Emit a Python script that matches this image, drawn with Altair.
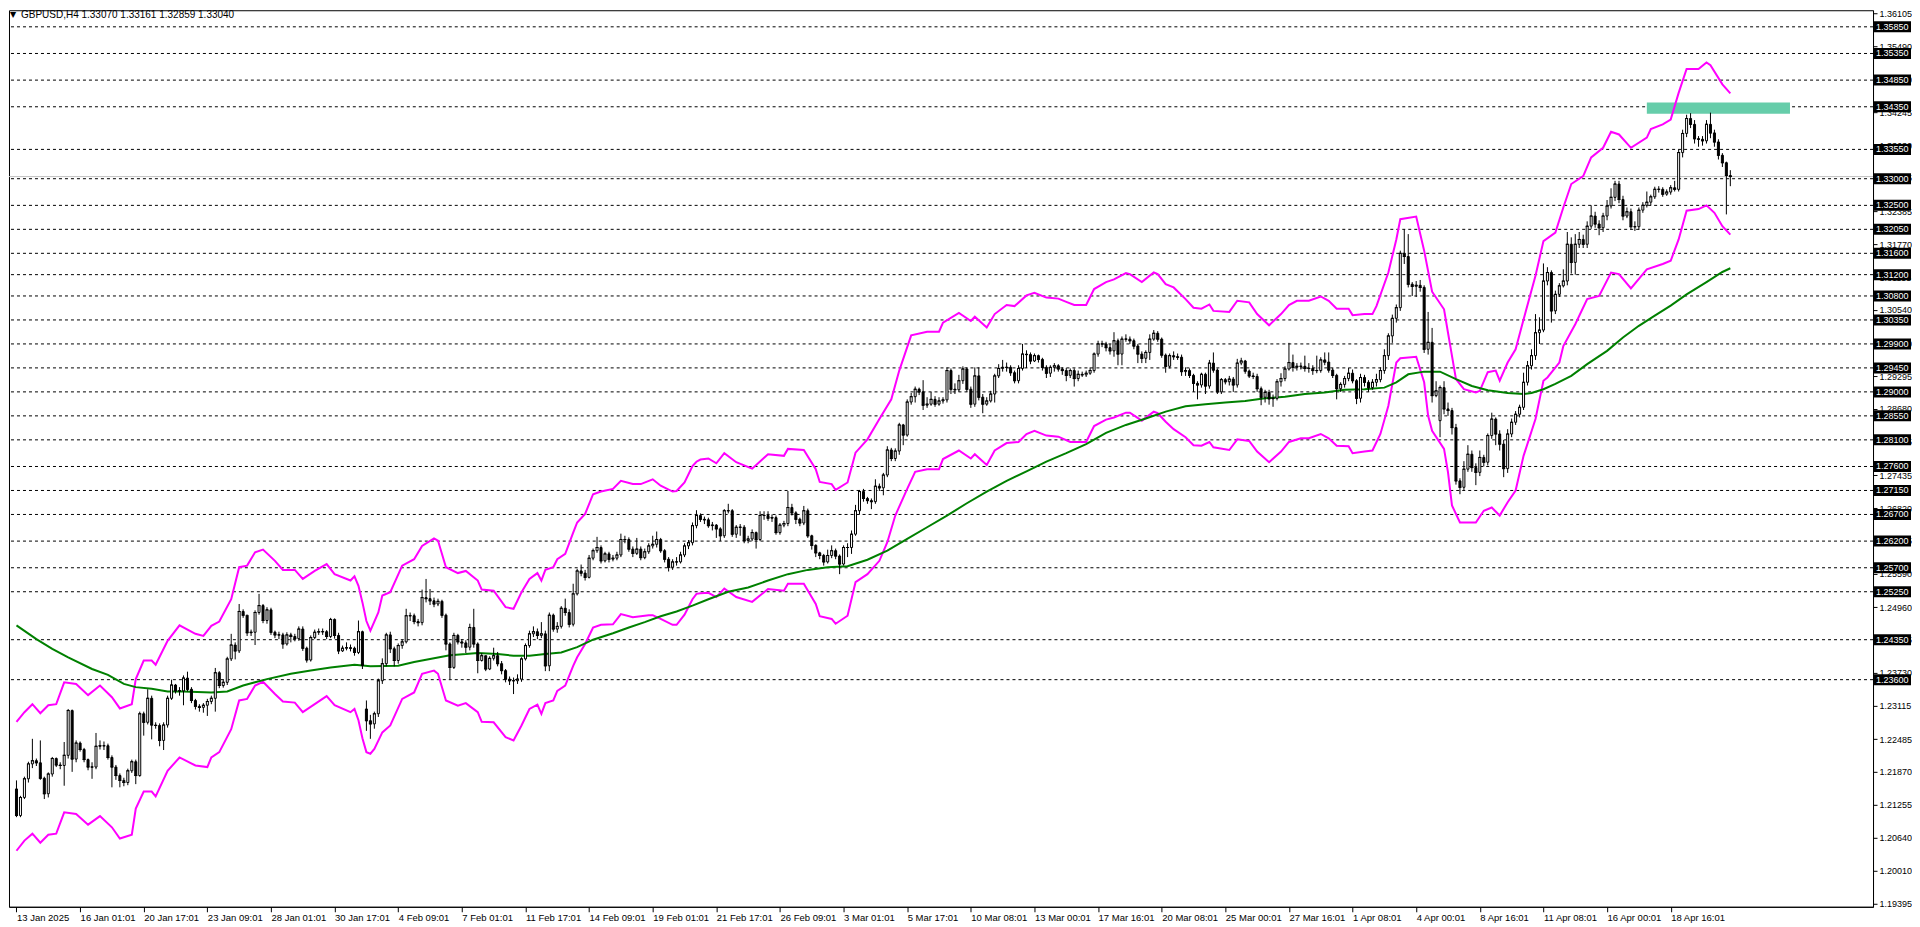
import altair as alt
import pandas as pd

W, H = 1865, 897
FONT = "Liberation Sans"

title_text = "GBPUSD,H4  1.33070 1.33161 1.32859 1.33040"

# x labels: one every 16 H4 bars, bar 0 = 13 Jan 2025 09:00
x_labels = ["13 Jan 2025", "16 Jan 01:01", "20 Jan 17:01", "23 Jan 09:01", "28 Jan 01:01",
            "30 Jan 17:01", "4 Feb 09:01", "7 Feb 01:01", "11 Feb 17:01", "14 Feb 09:01",
            "19 Feb 01:01", "21 Feb 17:01", "26 Feb 09:01", "3 Mar 01:01", "5 Mar 17:01",
            "10 Mar 08:01", "13 Mar 00:01", "17 Mar 16:01", "20 Mar 08:01", "25 Mar 00:01",
            "27 Mar 16:01", "1 Apr 08:01", "4 Apr 00:01", "8 Apr 16:01", "11 Apr 08:01",
            "16 Apr 00:01", "18 Apr 16:01"]
label_step = 16

y_ticks = [1.19395, 1.20010, 1.20640, 1.21255, 1.21870, 1.22485, 1.23115, 1.23730, 1.24345,
           1.24960, 1.25590, 1.26205, 1.26820, 1.27435, 1.28065, 1.28680, 1.29295, 1.29910,
           1.30540, 1.31155, 1.31770, 1.32385, 1.33015, 1.33630, 1.34245, 1.34860, 1.35490,
           1.36105]

levels = [1.35850, 1.35350, 1.34850, 1.34350, 1.33550, 1.33000, 1.32500, 1.32050, 1.31600,
          1.31200, 1.30800, 1.30350, 1.29900, 1.29450, 1.29000, 1.28550, 1.28100, 1.27600,
          1.27150, 1.26700, 1.26200, 1.25700, 1.25250, 1.24350, 1.23600]

bid_price = 1.33040

# rectangle object (bar index from/to, price from/to)
rect_k = [410, 446]
rect_p = [1.3422, 1.3443]

# OHLC in units of 0.0001 (pips); open = previous close except weekend gaps
first_open = 12155
gap_opens = {88: 12305, 358: 12846}
closes = [
    12105, 12139, 12174, 12202, 12208, 12204, 12175, 12146, 12183, 12212,
    12200, 12199, 12218, 12302, 12211, 12241, 12229, 12210, 12196, 12196,
    12235, 12236, 12236, 12214, 12196, 12180, 12171, 12167, 12189, 12206,
    12180, 12296, 12280, 12325, 12275, 12274, 12246, 12275, 12325, 12350,
    12339, 12339, 12363, 12342, 12321, 12310, 12308, 12312, 12319, 12325,
    12373, 12349, 12355, 12399, 12425, 12414, 12488, 12481, 12448, 12449,
    12486, 12499, 12471, 12491, 12449, 12444, 12444, 12427, 12444, 12441,
    12437, 12455, 12419, 12397, 12439, 12449, 12450, 12450, 12441, 12473,
    12443, 12414, 12419, 12420, 12419, 12411, 12450, 12387, 12283, 12277,
    12296, 12358, 12390, 12444, 12418, 12396, 12424, 12431, 12480, 12480,
    12469, 12467, 12514, 12512, 12508, 12502, 12507, 12481, 12427, 12383,
    12443, 12431, 12429, 12421, 12458, 12427, 12396, 12405, 12380, 12400,
    12405, 12390, 12377, 12361, 12358, 12358, 12361, 12399, 12424, 12446,
    12450, 12443, 12446, 12386, 12481, 12455, 12460, 12494, 12486, 12464,
    12521, 12564, 12560, 12552, 12588, 12602, 12608, 12583, 12596, 12586,
    12588, 12594, 12623, 12623, 12605, 12597, 12605, 12589, 12600, 12611,
    12614, 12623, 12602, 12586, 12571, 12581, 12581, 12594, 12611, 12617,
    12649, 12668, 12661, 12660, 12649, 12650, 12643, 12630, 12677, 12677,
    12633, 12646, 12646, 12621, 12624, 12636, 12623, 12668, 12668, 12663,
    12664, 12636, 12650, 12653, 12683, 12673, 12661, 12654, 12677, 12630,
    12612, 12598, 12593, 12581, 12593, 12602, 12592, 12577, 12608, 12608,
    12633, 12677, 12713, 12700, 12696, 12694, 12723, 12720, 12744, 12791,
    12775, 12789, 12838, 12819, 12881, 12891, 12905, 12900, 12875, 12877,
    12886, 12877, 12883, 12885, 12940, 12905, 12904, 12921, 12943, 12905,
    12877, 12930, 12890, 12877, 12883, 12896, 12930, 12944, 12946, 12946,
    12936, 12921, 12944, 12971, 12970, 12958, 12968, 12961, 12946, 12935,
    12946, 12949, 12943, 12940, 12931, 12940, 12925, 12933, 12932, 12935,
    12940, 12971, 12990, 12990, 12983, 12977, 12996, 12971, 12999, 12999,
    12996, 12986, 12971, 12963, 12974, 12999, 13010, 12999, 12969, 12948,
    12968, 12966, 12965, 12938, 12940, 12931, 12916, 12913, 12933, 12911,
    12954, 12941, 12900, 12923, 12919, 12924, 12913, 12954, 12958, 12939,
    12930, 12929, 12906, 12890, 12899, 12887, 12888, 12919, 12925, 12943,
    12955, 12946, 12948, 12948, 12944, 12944, 12940, 12940, 12960, 12956,
    12941, 12931, 12906, 12914, 12925, 12935, 12921, 12888, 12927, 12918,
    12908, 12918, 12923, 12940, 12968, 13005, 13038, 13058, 13160, 13154,
    13102, 13098, 13100, 13096, 12980, 12993, 12893, 12902, 12908, 12868,
    12865, 12833, 12733, 12721, 12755, 12783, 12758, 12749, 12777, 12768,
    12818, 12849, 12821, 12802, 12756, 12821, 12843, 12858, 12871, 12918,
    12949, 12968, 13011, 13016, 13108, 13124, 13052, 13083, 13099, 13108,
    13177, 13143, 13177, 13186, 13177, 13211, 13230, 13215, 13208, 13230,
    13249, 13265, 13290, 13261, 13230, 13238, 13210, 13210, 13241, 13250,
    13256, 13266, 13280, 13280, 13271, 13275, 13283, 13280, 13349, 13385,
    13413, 13402, 13375, 13374, 13371, 13402, 13386, 13369, 13344, 13330,
    13306, 13304,
]
highs = [
    12171, 12142, 12178, 12206, 12249, 12212, 12246, 12178, 12186, 12215,
    12214, 12205, 12243, 12305, 12304, 12246, 12244, 12232, 12212, 12205,
    12260, 12246, 12244, 12240, 12218, 12200, 12184, 12176, 12193, 12210,
    12210, 12300, 12300, 12342, 12330, 12280, 12278, 12280, 12330, 12360,
    12352, 12346, 12368, 12375, 12346, 12324, 12314, 12316, 12324, 12330,
    12382, 12376, 12360, 12403, 12446, 12430, 12502, 12492, 12470, 12454,
    12490, 12521, 12502, 12496, 12495, 12452, 12450, 12448, 12449, 12448,
    12446, 12460, 12460, 12422, 12443, 12454, 12456, 12456, 12453, 12476,
    12475, 12448, 12424, 12430, 12426, 12422, 12471, 12452, 12321, 12294,
    12300, 12362, 12400, 12448, 12450, 12422, 12428, 12435, 12493, 12486,
    12484, 12474, 12529, 12549, 12530, 12514, 12512, 12510, 12484, 12430,
    12448, 12446, 12436, 12434, 12465, 12493, 12430, 12410, 12400, 12404,
    12420, 12412, 12395, 12380, 12366, 12364, 12370, 12402, 12428, 12452,
    12460, 12456, 12468, 12452, 12486, 12484, 12468, 12498, 12512, 12492,
    12540, 12568, 12576, 12566, 12594, 12606, 12628, 12612, 12600, 12600,
    12594, 12600, 12634, 12630, 12627, 12610, 12626, 12610, 12606, 12616,
    12630, 12638, 12626, 12605, 12590, 12586, 12590, 12600, 12616, 12622,
    12655, 12678, 12672, 12666, 12664, 12656, 12652, 12646, 12680, 12690,
    12680, 12650, 12652, 12650, 12630, 12642, 12638, 12676, 12676, 12676,
    12670, 12668, 12654, 12658, 12714, 12690, 12676, 12664, 12686, 12681,
    12632, 12614, 12600, 12596, 12604, 12612, 12606, 12595, 12612, 12616,
    12640, 12688, 12716, 12718, 12703, 12700, 12736, 12728, 12748, 12798,
    12795, 12794, 12842, 12840, 12886, 12898, 12910, 12908, 12922, 12890,
    12900, 12892, 12890, 12890, 12946, 12944, 12916, 12932, 12948, 12946,
    12910, 12946, 12946, 12896, 12890, 12902, 12934, 12952, 12960, 12955,
    12950, 12940, 12950, 12990, 12978, 12974, 12972, 12970, 12964, 12950,
    12950, 12954, 12952, 12946, 12945, 12944, 12944, 12940, 12938, 12940,
    12946, 12974, 12996, 12996, 12994, 12990, 13012, 13000, 13004, 13008,
    13004, 13000, 12990, 12976, 12978, 13008, 13016, 13014, 13002, 12972,
    12972, 12976, 12972, 12970, 12946, 12944, 12934, 12920, 12936, 12936,
    12960, 12974, 12944, 12926, 12926, 12930, 12928, 12962, 12964, 12960,
    12942, 12936, 12934, 12910, 12904, 12904, 12895, 12924, 12935, 12948,
    12992, 12970, 12954, 12955, 12968, 12954, 12950, 12968, 12965, 12974,
    12974, 12945, 12934, 12918, 12930, 12945, 12942, 12924, 12934, 12932,
    12922, 12924, 12934, 12946, 12980, 13010, 13045, 13064, 13165, 13205,
    13196, 13106, 13108, 13110, 13100, 13050, 13020, 12920, 12912, 12920,
    12880, 12870, 12840, 12738, 12770, 12800, 12790, 12766, 12790, 12782,
    12822, 12861, 12852, 12828, 12810, 12830, 12850, 12864, 12876, 12936,
    12958, 12980, 13046, 13040, 13141, 13134, 13128, 13090, 13104, 13130,
    13200, 13190, 13196, 13200, 13195, 13220, 13250, 13238, 13222, 13236,
    13260, 13282, 13296, 13296, 13268, 13246, 13244, 13220, 13246, 13256,
    13276, 13270, 13285, 13286, 13284, 13280, 13288, 13296, 13355, 13392,
    13420, 13423, 13410, 13380, 13380, 13410, 13424, 13392, 13374, 13348,
    13332, 13316,
]
lows = [
    12102, 12102, 12136, 12167, 12194, 12198, 12172, 12136, 12139, 12178,
    12196, 12192, 12161, 12212, 12187, 12205, 12225, 12205, 12190, 12174,
    12192, 12229, 12228, 12210, 12158, 12172, 12158, 12160, 12162, 12185,
    12164, 12178, 12255, 12276, 12248, 12268, 12235, 12228, 12270, 12322,
    12334, 12330, 12312, 12338, 12316, 12304, 12300, 12298, 12292, 12314,
    12300, 12344, 12345, 12350, 12395, 12398, 12410, 12476, 12442, 12442,
    12425, 12482, 12466, 12465, 12444, 12438, 12436, 12418, 12424, 12430,
    12432, 12433, 12414, 12392, 12394, 12436, 12444, 12444, 12436, 12438,
    12437, 12408, 12412, 12415, 12413, 12405, 12408, 12380, 12264, 12249,
    12268, 12290, 12352, 12385, 12410, 12385, 12390, 12418, 12428, 12470,
    12464, 12460, 12462, 12505, 12500, 12496, 12498, 12476, 12415, 12361,
    12380, 12426, 12420, 12410, 12415, 12420, 12372, 12394, 12376, 12378,
    12396, 12385, 12370, 12355, 12350, 12333, 12352, 12356, 12396, 12420,
    12440, 12436, 12438, 12376, 12376, 12450, 12448, 12456, 12480, 12458,
    12460, 12518, 12554, 12546, 12550, 12584, 12598, 12578, 12580, 12580,
    12582, 12584, 12590, 12616, 12600, 12590, 12594, 12584, 12586, 12596,
    12606, 12608, 12598, 12580, 12563, 12566, 12574, 12578, 12590, 12605,
    12612, 12644, 12656, 12652, 12645, 12640, 12626, 12620, 12626, 12672,
    12628, 12626, 12630, 12616, 12616, 12620, 12606, 12620, 12660, 12658,
    12656, 12632, 12632, 12646, 12648, 12668, 12652, 12648, 12650, 12626,
    12604, 12590, 12586, 12574, 12578, 12588, 12586, 12558, 12574, 12590,
    12596, 12630, 12670, 12694, 12690, 12680, 12690, 12714, 12706, 12740,
    12770, 12770, 12782, 12800, 12816, 12876, 12880, 12894, 12866, 12870,
    12874, 12872, 12874, 12878, 12880, 12896, 12896, 12900, 12915, 12900,
    12870, 12872, 12884, 12860, 12874, 12880, 12880, 12926, 12938, 12938,
    12930, 12916, 12916, 12940, 12945, 12952, 12956, 12955, 12940, 12926,
    12928, 12938, 12938, 12932, 12920, 12926, 12910, 12920, 12928, 12928,
    12932, 12936, 12966, 12984, 12976, 12970, 12966, 12950, 12950, 12994,
    12990, 12980, 12954, 12954, 12954, 12960, 12996, 12994, 12964, 12936,
    12944, 12960, 12960, 12930, 12930, 12926, 12900, 12886, 12908, 12896,
    12906, 12936, 12896, 12896, 12914, 12912, 12900, 12908, 12950, 12934,
    12926, 12924, 12900, 12875, 12880, 12876, 12872, 12884, 12910, 12920,
    12940, 12938, 12940, 12942, 12938, 12936, 12932, 12935, 12936, 12950,
    12936, 12926, 12886, 12900, 12908, 12920, 12916, 12877, 12880, 12910,
    12900, 12904, 12910, 12918, 12934, 12960, 12992, 13030, 13052, 13140,
    13096, 13080, 13078, 13088, 12973, 12970, 12880, 12890, 12815, 12858,
    12855, 12820, 12726, 12708, 12716, 12750, 12750, 12725, 12742, 12760,
    12762, 12812, 12800, 12790, 12740, 12748, 12815, 12838, 12852, 12866,
    12912, 12942, 12960, 12990, 13012, 13100, 13030, 13046, 13078, 13096,
    13100, 13122, 13120, 13170, 13170, 13170, 13206, 13208, 13194, 13200,
    13222, 13244, 13258, 13254, 13222, 13226, 13204, 13202, 13204, 13236,
    13246, 13250, 13262, 13274, 13266, 13268, 13270, 13276, 13276, 13340,
    13378, 13395, 13366, 13360, 13362, 13366, 13376, 13360, 13336, 13322,
    13233, 13286,
]

# Envelopes (upper / lower) and slow moving average, read as (bar index, pips)
env_upper = [
    (0, 12281), (2, 12299), (4, 12314), (6, 12297), (8, 12312), (10, 12314), (12, 12355),
    (15, 12352), (18, 12331), (21, 12349), (24, 12327), (26, 12306), (29, 12314), (30, 12361),
    (32, 12396), (34, 12396), (35, 12388), (38, 12433), (41, 12462), (45, 12446), (47, 12442),
    (49, 12461), (51, 12469), (54, 12511), (56, 12571), (58, 12574), (60, 12599), (62, 12604),
    (65, 12583), (67, 12566), (70, 12566), (72, 12549), (75, 12564), (78, 12577), (80, 12558),
    (84, 12546), (85, 12554), (86, 12536), (87, 12505), (88, 12470), (89, 12452), (91, 12486),
    (92, 12518), (94, 12524), (97, 12574), (100, 12586), (102, 12611), (105, 12625), (106, 12621),
    (108, 12571), (111, 12560), (113, 12564), (116, 12546), (117, 12529), (120, 12527), (123, 12496),
    (125, 12493), (127, 12524), (129, 12549), (131, 12560), (132, 12546), (133, 12566), (135, 12571),
    (136, 12586), (138, 12596), (140, 12636), (141, 12655), (143, 12671), (145, 12708), (147, 12713),
    (150, 12718), (152, 12733), (155, 12727), (157, 12727), (160, 12736), (162, 12724), (165, 12713),
    (166, 12714), (168, 12730), (170, 12761), (171, 12769), (172, 12773), (174, 12775), (176, 12766),
    (178, 12785), (181, 12768), (185, 12756), (189, 12783), (193, 12780), (194, 12793), (198, 12791),
    (201, 12755), (202, 12731), (205, 12727), (206, 12716), (209, 12730), (211, 12786), (214, 12811),
    (217, 12849), (220, 12886), (222, 12940), (225, 13006), (229, 13013), (232, 13013), (233, 13030),
    (237, 13048), (240, 13033), (241, 13041), (244, 13021), (246, 13046), (249, 13063), (251, 13061),
    (254, 13081), (256, 13086), (259, 13077), (262, 13075), (264, 13069), (266, 13063), (269, 13063),
    (271, 13093), (274, 13106), (276, 13111), (279, 13123), (280, 13121), (283, 13106), (286, 13124),
    (287, 13121), (289, 13102), (291, 13096), (294, 13074), (296, 13058), (298, 13056), (300, 13064),
    (301, 13052), (305, 13050), (307, 13071), (310, 13068), (312, 13046), (315, 13025), (318, 13046),
    (320, 13063), (322, 13071), (325, 13071), (328, 13079), (330, 13071), (332, 13056), (335, 13056),
    (336, 13044), (339, 13046), (341, 13046), (342, 13061), (345, 13124), (347, 13186), (348, 13224),
    (352, 13229), (354, 13165), (356, 13088), (359, 13055), (360, 13011), (362, 12924), (364, 12905),
    (367, 12899), (368, 12902), (370, 12937), (372, 12940), (373, 12921), (375, 12955), (377, 12980),
    (379, 13036), (382, 13118), (384, 13183), (387, 13199), (389, 13246), (391, 13290), (394, 13305),
    (396, 13340), (399, 13358), (401, 13388), (403, 13383), (406, 13358), (410, 13377), (411, 13393),
    (414, 13402), (416, 13411), (418, 13461), (420, 13506), (423, 13506), (425, 13518), (426, 13513),
    (429, 13477), (431, 13460),
]
env_lower = [
    (0, 12039), (2, 12058), (4, 12071), (6, 12054), (8, 12069), (10, 12071), (12, 12111),
    (15, 12108), (18, 12088), (21, 12104), (24, 12083), (26, 12062), (29, 12069), (30, 12118),
    (32, 12150), (34, 12150), (35, 12141), (38, 12189), (41, 12214), (45, 12199), (48, 12196),
    (49, 12214), (51, 12224), (54, 12267), (56, 12321), (58, 12324), (60, 12349), (62, 12356),
    (65, 12333), (67, 12319), (70, 12317), (72, 12299), (75, 12314), (78, 12329), (80, 12312),
    (84, 12299), (85, 12305), (86, 12284), (87, 12250), (88, 12224), (89, 12221), (90, 12230),
    (92, 12261), (94, 12274), (97, 12324), (100, 12336), (102, 12371), (105, 12377), (106, 12371),
    (108, 12321), (111, 12311), (113, 12316), (116, 12299), (117, 12281), (120, 12280), (123, 12252),
    (125, 12246), (127, 12274), (129, 12305), (131, 12313), (132, 12296), (133, 12316), (135, 12321),
    (136, 12339), (138, 12349), (140, 12386), (141, 12402), (143, 12427), (145, 12458), (147, 12463),
    (150, 12464), (152, 12483), (155, 12477), (159, 12481), (160, 12481), (162, 12474), (165, 12463),
    (166, 12463), (168, 12482), (170, 12511), (171, 12521), (172, 12522), (174, 12523), (176, 12515),
    (178, 12531), (181, 12515), (185, 12506), (189, 12530), (193, 12527), (194, 12540), (198, 12540),
    (201, 12502), (202, 12479), (205, 12474), (206, 12465), (209, 12480), (211, 12543), (214, 12558),
    (217, 12583), (219, 12618), (221, 12668), (224, 12718), (226, 12750), (229, 12755), (232, 12755),
    (233, 12774), (237, 12790), (240, 12775), (241, 12783), (244, 12763), (246, 12790), (249, 12804),
    (252, 12806), (254, 12821), (256, 12827), (259, 12818), (262, 12816), (265, 12806), (269, 12806),
    (271, 12836), (274, 12848), (276, 12852), (279, 12861), (280, 12861), (283, 12846), (286, 12863),
    (287, 12860), (289, 12844), (291, 12830), (294, 12815), (296, 12800), (298, 12799), (300, 12806),
    (301, 12796), (305, 12791), (307, 12811), (310, 12808), (312, 12788), (315, 12768), (318, 12788),
    (320, 12806), (323, 12813), (325, 12813), (328, 12821), (330, 12813), (332, 12799), (335, 12798),
    (336, 12785), (339, 12788), (341, 12790), (343, 12821), (345, 12874), (347, 12955), (348, 12963),
    (352, 12966), (354, 12918), (355, 12855), (356, 12827), (359, 12793), (360, 12749), (361, 12687),
    (363, 12655), (367, 12655), (369, 12677), (371, 12683), (373, 12668), (375, 12693), (377, 12715),
    (379, 12780), (382, 12849), (384, 12921), (385, 12927), (388, 12955), (389, 12986), (392, 13027),
    (395, 13074), (398, 13080), (401, 13124), (403, 13121), (406, 13094), (410, 13130), (414, 13140),
    (416, 13146), (418, 13186), (420, 13240), (423, 13243), (425, 13250), (427, 13236), (429, 13211),
    (431, 13195),
]
slow_ma = [
    (0, 12462), (5, 12436), (9, 12418), (13, 12402), (19, 12380), (23, 12369), (27, 12352),
    (30, 12346), (34, 12343), (38, 12338), (42, 12338), (49, 12336), (53, 12338), (57, 12349),
    (60, 12355), (63, 12361), (69, 12371), (74, 12377), (79, 12383), (85, 12388), (89, 12385),
    (96, 12386), (100, 12393), (105, 12400), (109, 12406), (113, 12408), (116, 12410), (121, 12408),
    (125, 12405), (129, 12405), (133, 12408), (137, 12411), (141, 12421), (145, 12435), (150, 12447),
    (154, 12458), (158, 12468), (162, 12479), (166, 12488), (170, 12499), (174, 12511), (179, 12525),
    (184, 12533), (189, 12546), (194, 12558), (199, 12566), (204, 12571), (209, 12573), (214, 12585),
    (219, 12602), (224, 12624), (229, 12646), (234, 12668), (239, 12691), (244, 12713), (249, 12733),
    (254, 12751), (259, 12769), (264, 12785), (269, 12802), (274, 12823), (279, 12838), (284, 12850),
    (289, 12863), (294, 12873), (299, 12877), (304, 12880), (309, 12883), (314, 12888), (319, 12891),
    (324, 12896), (329, 12899), (334, 12904), (339, 12905), (344, 12908), (347, 12918), (350, 12933),
    (354, 12938), (358, 12938), (362, 12924), (366, 12911), (370, 12903), (375, 12898), (379, 12896),
    (381, 12898), (384, 12905), (387, 12915), (391, 12930), (395, 12952), (400, 12977), (404, 13002),
    (408, 13024), (412, 13043), (416, 13062), (420, 13083), (425, 13106), (429, 13125), (431, 13132),
]

PIP = 10000.0
n = len(closes)
assert len(highs) == n and len(lows) == n, (len(closes), len(highs), len(lows))
opens = [first_open] + closes[:-1]
for k, v in gap_opens.items():
    opens[k] = v

candles = pd.DataFrame({
    "k": list(range(n)),
    "o": [v / PIP for v in opens],
    "h": [v / PIP for v in highs],
    "l": [v / PIP for v in lows],
    "c": [v / PIP for v in closes],
})
candles["dir"] = ["up" if c >= o else "down" for o, c in zip(opens, closes)]

def line_df(pairs):
    return pd.DataFrame({"k": [p[0] for p in pairs], "v": [p[1] / PIP for p in pairs]})

up_df = line_df(env_upper)
lo_df = line_df(env_lower)
ma_df = line_df(slow_ma)
lv_df = pd.DataFrame({"lv": levels, "lab": [f"{v:.5f}" for v in levels]})
bid_df = pd.DataFrame({"p": [bid_price]})
rect_df = pd.DataFrame({"k1": [rect_k[0]], "k2": [rect_k[1]], "p1": [rect_p[0]], "p2": [rect_p[1]]})
title_df = pd.DataFrame({"t": [title_text]})

label_expr = "[" + ",".join("'%s'" % s for s in x_labels) + "][round(datum.value / %d)]" % label_step

xs = alt.Scale(domain=[-0.625, 465.625], nice=False, zero=False)
ys = alt.Scale(domain=[1.1933875, 1.3616125], nice=False, zero=False)
xaxis = alt.Axis(values=list(range(0, label_step * len(x_labels), label_step)), labelExpr=label_expr,
                 orient="bottom", tickSize=5, labelAlign="left", labelBaseline="top", labelPadding=1,
                 grid=False, domain=True, domainColor="black", tickColor="black",
                 labelFont=FONT, labelFontSize=9.5, labelColor="black", labelOverlap=False,
                 labelFlush=False, title=None, zindex=0)
yaxis = alt.Axis(values=y_ticks, format=".5f", orient="right", tickSize=4, labelPadding=2, grid=False,
                 domain=True, domainColor="black", tickColor="black", labelFont=FONT, labelFontSize=9,
                 labelColor="black", labelOverlap=False, labelFlush=False, title=None, zindex=0)

def X(f):
    return alt.X(f, type="quantitative", scale=xs, axis=xaxis)

def Y(f):
    return alt.Y(f, type="quantitative", scale=ys, axis=yaxis)

level_lines = alt.Chart(lv_df).mark_rule(color="black", strokeWidth=1, strokeDash=[3, 3]).encode(y=Y("lv"))
bid_line = alt.Chart(bid_df).mark_rule(color="#c0c0c0", strokeWidth=1).encode(y=Y("p"))
rect = alt.Chart(rect_df).mark_rect(color="#66cdaa", opacity=1).encode(
    x=X("k1"), x2="k2", y=Y("p1"), y2="p2")
upper = alt.Chart(up_df).mark_line(color="#ff00ff", strokeWidth=2).encode(x=X("k"), y=Y("v"))
lower = alt.Chart(lo_df).mark_line(color="#ff00ff", strokeWidth=2).encode(x=X("k"), y=Y("v"))
ma = alt.Chart(ma_df).mark_line(color="#008000", strokeWidth=2).encode(x=X("k"), y=Y("v"))
wicks = alt.Chart(candles).mark_rule(color="black", strokeWidth=1, clip=True).encode(
    x=X("k"), y=Y("l"), y2="h")
bodies = alt.Chart(candles).mark_bar(width=2, stroke="black", strokeWidth=1, clip=True).encode(
    x=X("k"), y=Y("o"), y2="c",
    fill=alt.Fill("dir:N", scale=alt.Scale(domain=["up", "down"], range=["white", "black"]), legend=None))
doji = alt.Chart(candles).mark_tick(orient="horizontal", size=3, thickness=1, color="black",
                                    opacity=1, clip=True).encode(x=X("k"), y=Y("c"))
lab_box = alt.Chart(lv_df).mark_tick(orient="horizontal", size=37, thickness=11, color="black",
                                     opacity=1).encode(y=Y("lv"), x=alt.value(W + 19.5))
lab_txt = alt.Chart(lv_df).mark_text(align="left", baseline="middle", color="white", font=FONT,
                                     fontSize=9).encode(y=Y("lv"), x=alt.value(W + 3), text="lab:N")
tri = alt.Chart(title_df).mark_text(text="\u25bc", align="left", baseline="middle", font="DejaVu Sans",
                                    fontSize=8, color="black").encode(x=alt.value(1), y=alt.value(5))
title = alt.Chart(title_df).mark_text(align="left", baseline="middle", font=FONT, fontSize=10,
                                      color="black").encode(x=alt.value(12), y=alt.value(5), text="t:N")

chart = alt.layer(level_lines, bid_line, rect, upper, lower, ma, wicks, bodies, doji,
                  lab_box, lab_txt, tri, title).properties(
    width=W, height=H, padding=0, background="white"
).configure_view(stroke="black", strokeWidth=1)

chart.save("out.html", embed_options={"renderer": "svg", "actions": False})
